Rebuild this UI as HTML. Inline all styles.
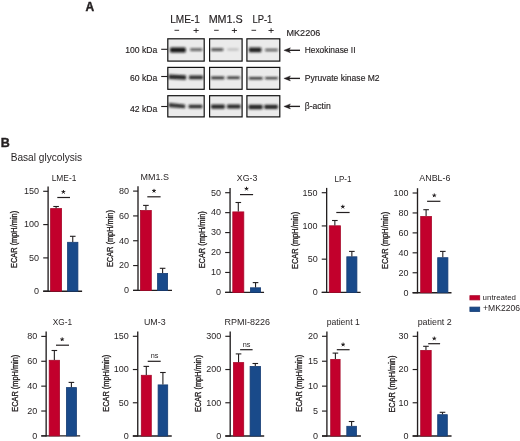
<!DOCTYPE html>
<html><head><meta charset="utf-8"><style>
html,body{margin:0;padding:0;background:#fff;}
svg{display:block;will-change:transform;}
text{font-family:"Liberation Sans", sans-serif;fill:#231f20;} .hv{stroke:#231f20;stroke-width:0.15px;} .yl{stroke:#231f20;stroke-width:0.3px;}
</style></head><body>
<svg width="520" height="441" viewBox="0 0 520 441">
<defs><filter id="bl" x="-30%" y="-100%" width="160%" height="300%"><feGaussianBlur stdDeviation="0.8 1.05"/></filter></defs>
<rect width="520" height="441" fill="#fff"/>
<text x="85.4" y="10.9" font-size="12" text-anchor="start" font-weight="bold" stroke="#231f20" stroke-width="0.4">A</text>
<text class="hv" x="185.0" y="22.6" font-size="10.4" text-anchor="middle" font-weight="normal" textLength="29.7" lengthAdjust="spacingAndGlyphs" >LME-1</text>
<text class="hv" x="225.7" y="22.6" font-size="10.4" text-anchor="middle" font-weight="normal" textLength="34.1" lengthAdjust="spacingAndGlyphs" >MM1.S</text>
<text class="hv" x="262.4" y="22.6" font-size="10.4" text-anchor="middle" font-weight="normal" textLength="19.9" lengthAdjust="spacingAndGlyphs" >LP-1</text>
<line x1="174.5" y1="30.3" x2="179.10000000000002" y2="30.3" stroke="#231f20" stroke-width="0.9"/>
<line x1="193.5" y1="30.5" x2="198.7" y2="30.5" stroke="#231f20" stroke-width="0.9"/>
<line x1="196.1" y1="28.2" x2="196.1" y2="32.9" stroke="#231f20" stroke-width="0.9"/>
<line x1="214.1" y1="30.3" x2="218.70000000000002" y2="30.3" stroke="#231f20" stroke-width="0.9"/>
<line x1="231.8" y1="30.5" x2="237.0" y2="30.5" stroke="#231f20" stroke-width="0.9"/>
<line x1="234.4" y1="28.2" x2="234.4" y2="32.9" stroke="#231f20" stroke-width="0.9"/>
<line x1="251.5" y1="30.3" x2="256.1" y2="30.3" stroke="#231f20" stroke-width="0.9"/>
<line x1="268.5" y1="30.5" x2="273.70000000000005" y2="30.5" stroke="#231f20" stroke-width="0.9"/>
<line x1="271.1" y1="28.2" x2="271.1" y2="32.9" stroke="#231f20" stroke-width="0.9"/>
<text class="hv" x="286.6" y="35.7" font-size="8.6" text-anchor="start" font-weight="normal" textLength="33.6" lengthAdjust="spacingAndGlyphs" >MK2206</text>
<text class="hv" x="157.3" y="52.9" font-size="8.6" text-anchor="end" font-weight="normal" >100 kDa</text>
<line x1="161.2" y1="49.3" x2="167.5" y2="49.3" stroke="#231f20" stroke-width="1.1"/>
<line x1="288" y1="50.3" x2="300" y2="50.3" stroke="#231f20" stroke-width="1.35"/>
<path d="M283.9 50.3 L290.4 47.8 L289.0 50.3 L290.4 52.8 Z" fill="#231f20" stroke="#231f20" stroke-width="0.4" stroke-linejoin="round"/>
<text class="hv" x="304.7" y="52.9" font-size="8.6" text-anchor="start" font-weight="normal" textLength="50.8" lengthAdjust="spacingAndGlyphs" >Hexokinase II</text>
<rect x="167.80" y="38.80" width="36.40" height="22.30" fill="#ebebeb" stroke="#111" stroke-width="1.2"/>
<rect x="209.60" y="38.80" width="32.50" height="22.30" fill="#ebebeb" stroke="#111" stroke-width="1.2"/>
<rect x="246.90" y="38.80" width="32.90" height="22.30" fill="#ebebeb" stroke="#111" stroke-width="1.2"/>
<text class="hv" x="157.3" y="80.9" font-size="8.6" text-anchor="end" font-weight="normal" >60 kDa</text>
<line x1="161.2" y1="76.5" x2="167.5" y2="76.5" stroke="#231f20" stroke-width="1.1"/>
<line x1="288" y1="78.4" x2="300" y2="78.4" stroke="#231f20" stroke-width="1.35"/>
<path d="M283.9 78.4 L290.4 75.9 L289.0 78.4 L290.4 80.9 Z" fill="#231f20" stroke="#231f20" stroke-width="0.4" stroke-linejoin="round"/>
<text class="hv" x="304.7" y="81.4" font-size="8.6" text-anchor="start" font-weight="normal" textLength="74.9" lengthAdjust="spacingAndGlyphs" >Pyruvate kinase M2</text>
<rect x="167.80" y="67.40" width="36.40" height="21.90" fill="#ebebeb" stroke="#111" stroke-width="1.2"/>
<rect x="209.60" y="67.40" width="32.50" height="21.90" fill="#ebebeb" stroke="#111" stroke-width="1.2"/>
<rect x="246.90" y="67.40" width="32.90" height="21.90" fill="#ebebeb" stroke="#111" stroke-width="1.2"/>
<text class="hv" x="157.3" y="112.2" font-size="8.6" text-anchor="end" font-weight="normal" >42 kDa</text>
<line x1="161.2" y1="106.5" x2="167.5" y2="106.5" stroke="#231f20" stroke-width="1.1"/>
<line x1="288" y1="106.4" x2="300" y2="106.4" stroke="#231f20" stroke-width="1.35"/>
<path d="M283.9 106.4 L290.4 103.9 L289.0 106.4 L290.4 108.9 Z" fill="#231f20" stroke="#231f20" stroke-width="0.4" stroke-linejoin="round"/>
<text class="hv" x="304.7" y="109.4" font-size="8.6" text-anchor="start" font-weight="normal" textLength="26.0" lengthAdjust="spacingAndGlyphs" >β-actin</text>
<rect x="167.80" y="95.70" width="36.40" height="21.20" fill="#ebebeb" stroke="#111" stroke-width="1.2"/>
<rect x="209.60" y="95.70" width="32.50" height="21.20" fill="#ebebeb" stroke="#111" stroke-width="1.2"/>
<rect x="246.90" y="95.70" width="32.90" height="21.20" fill="#ebebeb" stroke="#111" stroke-width="1.2"/>
<path d="M170.80 47.40 L185.00 47.40 Q185.80 47.40 185.80 50.00 Q185.80 52.60 185.00 52.60 L170.80 52.60 Q170.00 52.60 170.00 50.00 Q170.00 47.40 170.80 47.40 Z" fill="#141414" fill-opacity="1.0" filter="url(#bl)"/>
<path d="M190.80 48.20 L201.60 48.20 Q202.40 48.20 202.40 49.60 Q202.40 51.00 201.60 51.00 L190.80 51.00 Q190.00 51.00 190.00 49.60 Q190.00 48.20 190.80 48.20 Z" fill="#141414" fill-opacity="0.66" filter="url(#bl)"/>
<path d="M211.80 48.20 L222.60 48.20 Q223.40 48.20 223.40 49.55 Q223.40 50.90 222.60 50.90 L211.80 50.90 Q211.00 50.90 211.00 49.55 Q211.00 48.20 211.80 48.20 Z" fill="#141414" fill-opacity="0.76" filter="url(#bl)"/>
<path d="M228.00 48.60 L237.90 48.60 Q238.70 48.60 238.70 49.55 Q238.70 50.50 237.90 50.50 L228.00 50.50 Q227.20 50.50 227.20 49.55 Q227.20 48.60 228.00 48.60 Z" fill="#141414" fill-opacity="0.22" filter="url(#bl)"/>
<path d="M249.60 47.40 L260.70 47.40 Q261.50 47.40 261.50 49.85 Q261.50 52.30 260.70 52.30 L249.60 52.30 Q248.80 52.30 248.80 49.85 Q248.80 47.40 249.60 47.40 Z" fill="#141414" fill-opacity="0.95" filter="url(#bl)"/>
<path d="M265.80 48.80 L277.20 48.80 Q278.00 48.80 278.00 50.05 Q278.00 51.30 277.20 51.30 L265.80 51.30 Q265.00 51.30 265.00 50.05 Q265.00 48.80 265.80 48.80 Z" fill="#141414" fill-opacity="0.66" filter="url(#bl)"/>
<path d="M169.30 74.50 L185.40 75.30 Q186.20 75.30 186.20 77.50 Q186.20 79.70 185.40 79.70 L169.30 79.00 Q168.50 79.00 168.50 76.75 Q168.50 74.50 169.30 74.50 Z" fill="#141414" fill-opacity="0.92" filter="url(#bl)"/>
<path d="M189.70 75.60 L202.30 75.60 Q203.10 75.60 203.10 77.45 Q203.10 79.30 202.30 79.30 L189.70 79.30 Q188.90 79.30 188.90 77.45 Q188.90 75.60 189.70 75.60 Z" fill="#141414" fill-opacity="0.9" filter="url(#bl)"/>
<path d="M211.80 76.60 L223.70 76.60 Q224.50 76.60 224.50 77.90 Q224.50 79.20 223.70 79.20 L211.80 79.20 Q211.00 79.20 211.00 77.90 Q211.00 76.60 211.80 76.60 Z" fill="#141414" fill-opacity="0.88" filter="url(#bl)"/>
<path d="M227.80 76.50 L239.10 76.50 Q239.90 76.50 239.90 77.75 Q239.90 79.00 239.10 79.00 L227.80 79.00 Q227.00 79.00 227.00 77.75 Q227.00 76.50 227.80 76.50 Z" fill="#141414" fill-opacity="0.88" filter="url(#bl)"/>
<path d="M249.60 77.00 L261.90 77.00 Q262.70 77.00 262.70 78.20 Q262.70 79.40 261.90 79.40 L249.60 79.40 Q248.80 79.40 248.80 78.20 Q248.80 77.00 249.60 77.00 Z" fill="#141414" fill-opacity="0.88" filter="url(#bl)"/>
<path d="M265.80 76.90 L277.20 76.90 Q278.00 76.90 278.00 78.05 Q278.00 79.20 277.20 79.20 L265.80 79.20 Q265.00 79.20 265.00 78.05 Q265.00 76.90 265.80 76.90 Z" fill="#141414" fill-opacity="0.85" filter="url(#bl)"/>
<path d="M169.50 103.00 L184.50 104.40 Q185.30 104.40 185.30 106.30 Q185.30 108.20 184.50 108.20 L169.50 107.20 Q168.70 107.20 168.70 105.10 Q168.70 103.00 169.50 103.00 Z" fill="#141414" fill-opacity="0.88" filter="url(#bl)"/>
<path d="M189.30 104.80 L201.60 104.80 Q202.40 104.80 202.40 106.50 Q202.40 108.20 201.60 108.20 L189.30 108.20 Q188.50 108.20 188.50 106.50 Q188.50 104.80 189.30 104.80 Z" fill="#141414" fill-opacity="0.9" filter="url(#bl)"/>
<path d="M211.80 104.60 L224.10 104.60 Q224.90 104.60 224.90 106.70 Q224.90 108.80 224.10 108.80 L211.80 108.80 Q211.00 108.80 211.00 106.70 Q211.00 104.60 211.80 104.60 Z" fill="#141414" fill-opacity="0.93" filter="url(#bl)"/>
<path d="M227.80 104.60 L239.90 104.60 Q240.70 104.60 240.70 106.60 Q240.70 108.60 239.90 108.60 L227.80 108.60 Q227.00 108.60 227.00 106.60 Q227.00 104.60 227.80 104.60 Z" fill="#141414" fill-opacity="0.93" filter="url(#bl)"/>
<path d="M249.20 104.70 L261.90 104.70 Q262.70 104.70 262.70 107.00 Q262.70 109.30 261.90 109.30 L249.20 109.30 Q248.40 109.30 248.40 107.00 Q248.40 104.70 249.20 104.70 Z" fill="#141414" fill-opacity="0.93" filter="url(#bl)"/>
<path d="M265.00 104.70 L277.20 104.70 Q278.00 104.70 278.00 106.85 Q278.00 109.00 277.20 109.00 L265.00 109.00 Q264.20 109.00 264.20 106.85 Q264.20 104.70 265.00 104.70 Z" fill="#141414" fill-opacity="0.92" filter="url(#bl)"/>
<text x="0.7" y="146.5" font-size="12.5" text-anchor="start" font-weight="bold" stroke="#231f20" stroke-width="0.4">B</text>
<text x="10.7" y="161.4" font-size="10.3" text-anchor="start" font-weight="normal" textLength="71.4" lengthAdjust="spacingAndGlyphs" >Basal glycolysis</text>
<line x1="48.1" y1="186.5" x2="48.1" y2="291.8" stroke="#231f20" stroke-width="1.35"/>
<line x1="43.20" y1="291.2" x2="82.1" y2="291.2" stroke="#231f20" stroke-width="1.35"/>
<line x1="43.20" y1="291.20" x2="48.1" y2="291.20" stroke="#231f20" stroke-width="1.15"/>
<text x="39.1" y="294.00" font-size="9" text-anchor="end" font-weight="normal" >0</text>
<line x1="43.20" y1="257.90" x2="48.1" y2="257.90" stroke="#231f20" stroke-width="1.15"/>
<text x="39.1" y="260.70" font-size="9" text-anchor="end" font-weight="normal" >50</text>
<line x1="43.20" y1="224.60" x2="48.1" y2="224.60" stroke="#231f20" stroke-width="1.15"/>
<text x="39.1" y="227.40" font-size="9" text-anchor="end" font-weight="normal" >100</text>
<line x1="43.20" y1="191.30" x2="48.1" y2="191.30" stroke="#231f20" stroke-width="1.15"/>
<text x="39.1" y="194.10" font-size="9" text-anchor="end" font-weight="normal" >150</text>
<text class="yl" transform="translate(17.10,239.40) rotate(-90)" x="0" y="0" font-size="8.4" text-anchor="middle" textLength="57" lengthAdjust="spacingAndGlyphs">ECAR (mpH/min)</text>
<text x="64.0" y="180.5" font-size="8.4" text-anchor="middle" font-weight="normal" textLength="24.7" lengthAdjust="spacingAndGlyphs" >LME-1</text>
<rect x="50.60" y="208.60" width="11.00" height="82.60" fill="#c2002c" stroke="#a8082a" stroke-width="0.8"/>
<line x1="56.10" y1="208.2" x2="56.10" y2="206.5" stroke="#231f20" stroke-width="1.1"/>
<line x1="53.30" y1="206.5" x2="58.90" y2="206.5" stroke="#231f20" stroke-width="1.1"/>
<rect x="67.60" y="242.30" width="10.30" height="48.90" fill="#194a8a" stroke="#163c74" stroke-width="0.8"/>
<line x1="72.75" y1="241.9" x2="72.75" y2="236.3" stroke="#231f20" stroke-width="1.1"/>
<line x1="69.95" y1="236.3" x2="75.55" y2="236.3" stroke="#231f20" stroke-width="1.1"/>
<line x1="57.3" y1="197.5" x2="70.0" y2="197.5" stroke="#231f20" stroke-width="1.2"/>
<path d="M63.40 192.00 L63.40 190.40 M63.40 192.00 L64.92 191.51 M63.40 192.00 L64.34 193.29 M63.40 192.00 L62.46 193.29 M63.40 192.00 L61.88 191.51 " stroke="#231f20" stroke-width="1.0" stroke-linecap="round"/>
<circle cx="63.4" cy="192.0" r="0.6" fill="#231f20"/>
<line x1="138.0" y1="186.29999999999998" x2="138.0" y2="291.0" stroke="#231f20" stroke-width="1.35"/>
<line x1="133.10" y1="290.4" x2="172.0" y2="290.4" stroke="#231f20" stroke-width="1.35"/>
<line x1="133.10" y1="290.40" x2="138.0" y2="290.40" stroke="#231f20" stroke-width="1.15"/>
<text x="129.0" y="293.20" font-size="9" text-anchor="end" font-weight="normal" >0</text>
<line x1="133.10" y1="265.57" x2="138.0" y2="265.57" stroke="#231f20" stroke-width="1.15"/>
<text x="129.0" y="268.38" font-size="9" text-anchor="end" font-weight="normal" >20</text>
<line x1="133.10" y1="240.75" x2="138.0" y2="240.75" stroke="#231f20" stroke-width="1.15"/>
<text x="129.0" y="243.55" font-size="9" text-anchor="end" font-weight="normal" >40</text>
<line x1="133.10" y1="215.92" x2="138.0" y2="215.92" stroke="#231f20" stroke-width="1.15"/>
<text x="129.0" y="218.72" font-size="9" text-anchor="end" font-weight="normal" >60</text>
<line x1="133.10" y1="191.10" x2="138.0" y2="191.10" stroke="#231f20" stroke-width="1.15"/>
<text x="129.0" y="193.90" font-size="9" text-anchor="end" font-weight="normal" >80</text>
<text class="yl" transform="translate(112.80,238.60) rotate(-90)" x="0" y="0" font-size="8.4" text-anchor="middle" textLength="57" lengthAdjust="spacingAndGlyphs">ECAR (mpH/min)</text>
<text x="154.7" y="179.9" font-size="8.4" text-anchor="middle" font-weight="normal" textLength="28.4" lengthAdjust="spacingAndGlyphs" >MM1.S</text>
<rect x="140.50" y="210.50" width="10.80" height="79.90" fill="#c2002c" stroke="#a8082a" stroke-width="0.8"/>
<line x1="145.90" y1="210.1" x2="145.90" y2="205.4" stroke="#231f20" stroke-width="1.1"/>
<line x1="143.10" y1="205.4" x2="148.70" y2="205.4" stroke="#231f20" stroke-width="1.1"/>
<rect x="157.60" y="273.40" width="10.00" height="17.00" fill="#194a8a" stroke="#163c74" stroke-width="0.8"/>
<line x1="162.60" y1="273.0" x2="162.60" y2="268.3" stroke="#231f20" stroke-width="1.1"/>
<line x1="159.80" y1="268.3" x2="165.40" y2="268.3" stroke="#231f20" stroke-width="1.1"/>
<line x1="147.3" y1="196.8" x2="160.6" y2="196.8" stroke="#231f20" stroke-width="1.2"/>
<path d="M154.00 190.90 L154.00 189.30 M154.00 190.90 L155.52 190.41 M154.00 190.90 L154.94 192.19 M154.00 190.90 L153.06 192.19 M154.00 190.90 L152.48 190.41 " stroke="#231f20" stroke-width="1.0" stroke-linecap="round"/>
<circle cx="154.0" cy="190.9" r="0.6" fill="#231f20"/>
<line x1="230.05" y1="187.89999999999998" x2="230.05" y2="293.0" stroke="#231f20" stroke-width="1.35"/>
<line x1="225.15" y1="292.4" x2="264.05" y2="292.4" stroke="#231f20" stroke-width="1.35"/>
<line x1="225.15" y1="292.40" x2="230.05" y2="292.40" stroke="#231f20" stroke-width="1.15"/>
<text x="221.05" y="295.20" font-size="9" text-anchor="end" font-weight="normal" >0</text>
<line x1="225.15" y1="272.46" x2="230.05" y2="272.46" stroke="#231f20" stroke-width="1.15"/>
<text x="221.05" y="275.26" font-size="9" text-anchor="end" font-weight="normal" >10</text>
<line x1="225.15" y1="252.52" x2="230.05" y2="252.52" stroke="#231f20" stroke-width="1.15"/>
<text x="221.05" y="255.32" font-size="9" text-anchor="end" font-weight="normal" >20</text>
<line x1="225.15" y1="232.58" x2="230.05" y2="232.58" stroke="#231f20" stroke-width="1.15"/>
<text x="221.05" y="235.38" font-size="9" text-anchor="end" font-weight="normal" >30</text>
<line x1="225.15" y1="212.64" x2="230.05" y2="212.64" stroke="#231f20" stroke-width="1.15"/>
<text x="221.05" y="215.44" font-size="9" text-anchor="end" font-weight="normal" >40</text>
<line x1="225.15" y1="192.70" x2="230.05" y2="192.70" stroke="#231f20" stroke-width="1.15"/>
<text x="221.05" y="195.50" font-size="9" text-anchor="end" font-weight="normal" >50</text>
<text class="yl" transform="translate(205.20,239.80) rotate(-90)" x="0" y="0" font-size="8.4" text-anchor="middle" textLength="57" lengthAdjust="spacingAndGlyphs">ECAR (mpH/min)</text>
<text x="247.1" y="181.2" font-size="8.4" text-anchor="middle" font-weight="normal" textLength="20.5" lengthAdjust="spacingAndGlyphs" >XG-3</text>
<rect x="232.80" y="211.90" width="11.00" height="80.50" fill="#c2002c" stroke="#a8082a" stroke-width="0.8"/>
<line x1="238.30" y1="211.5" x2="238.30" y2="202.5" stroke="#231f20" stroke-width="1.1"/>
<line x1="235.50" y1="202.5" x2="241.10" y2="202.5" stroke="#231f20" stroke-width="1.1"/>
<rect x="250.50" y="287.80" width="10.10" height="4.60" fill="#194a8a" stroke="#163c74" stroke-width="0.8"/>
<line x1="255.55" y1="287.4" x2="255.55" y2="282.6" stroke="#231f20" stroke-width="1.1"/>
<line x1="252.75" y1="282.6" x2="258.35" y2="282.6" stroke="#231f20" stroke-width="1.1"/>
<line x1="240.0" y1="194.6" x2="253.1" y2="194.6" stroke="#231f20" stroke-width="1.2"/>
<path d="M246.50 188.80 L246.50 187.20 M246.50 188.80 L248.02 188.31 M246.50 188.80 L247.44 190.09 M246.50 188.80 L245.56 190.09 M246.50 188.80 L244.98 188.31 " stroke="#231f20" stroke-width="1.0" stroke-linecap="round"/>
<circle cx="246.5" cy="188.8" r="0.6" fill="#231f20"/>
<line x1="326.65" y1="187.89999999999998" x2="326.65" y2="293.0" stroke="#231f20" stroke-width="1.35"/>
<line x1="321.75" y1="292.4" x2="360.65" y2="292.4" stroke="#231f20" stroke-width="1.35"/>
<line x1="321.75" y1="292.40" x2="326.65" y2="292.40" stroke="#231f20" stroke-width="1.15"/>
<text x="317.65" y="295.20" font-size="9" text-anchor="end" font-weight="normal" >0</text>
<line x1="321.75" y1="259.17" x2="326.65" y2="259.17" stroke="#231f20" stroke-width="1.15"/>
<text x="317.65" y="261.97" font-size="9" text-anchor="end" font-weight="normal" >50</text>
<line x1="321.75" y1="225.93" x2="326.65" y2="225.93" stroke="#231f20" stroke-width="1.15"/>
<text x="317.65" y="228.73" font-size="9" text-anchor="end" font-weight="normal" >100</text>
<line x1="321.75" y1="192.70" x2="326.65" y2="192.70" stroke="#231f20" stroke-width="1.15"/>
<text x="317.65" y="195.50" font-size="9" text-anchor="end" font-weight="normal" >150</text>
<text class="yl" transform="translate(297.50,240.40) rotate(-90)" x="0" y="0" font-size="8.4" text-anchor="middle" textLength="57" lengthAdjust="spacingAndGlyphs">ECAR (mpH/min)</text>
<text x="343.0" y="181.5" font-size="8.4" text-anchor="middle" font-weight="normal" textLength="17.1" lengthAdjust="spacingAndGlyphs" >LP-1</text>
<rect x="329.30" y="225.80" width="11.10" height="66.60" fill="#c2002c" stroke="#a8082a" stroke-width="0.8"/>
<line x1="334.85" y1="225.4" x2="334.85" y2="220.5" stroke="#231f20" stroke-width="1.1"/>
<line x1="332.05" y1="220.5" x2="337.65" y2="220.5" stroke="#231f20" stroke-width="1.1"/>
<rect x="346.80" y="256.80" width="10.10" height="35.60" fill="#194a8a" stroke="#163c74" stroke-width="0.8"/>
<line x1="351.85" y1="256.4" x2="351.85" y2="251.4" stroke="#231f20" stroke-width="1.1"/>
<line x1="349.05" y1="251.4" x2="354.65" y2="251.4" stroke="#231f20" stroke-width="1.1"/>
<line x1="336.3" y1="212.5" x2="349.6" y2="212.5" stroke="#231f20" stroke-width="1.2"/>
<path d="M342.80 206.80 L342.80 205.20 M342.80 206.80 L344.32 206.31 M342.80 206.80 L343.74 208.09 M342.80 206.80 L341.86 208.09 M342.80 206.80 L341.28 206.31 " stroke="#231f20" stroke-width="1.0" stroke-linecap="round"/>
<circle cx="342.8" cy="206.8" r="0.6" fill="#231f20"/>
<line x1="417.5" y1="188.2" x2="417.5" y2="293.3" stroke="#231f20" stroke-width="1.35"/>
<line x1="412.60" y1="292.7" x2="451.5" y2="292.7" stroke="#231f20" stroke-width="1.35"/>
<line x1="412.60" y1="292.70" x2="417.5" y2="292.70" stroke="#231f20" stroke-width="1.15"/>
<text x="408.5" y="295.50" font-size="9" text-anchor="end" font-weight="normal" >0</text>
<line x1="412.60" y1="272.76" x2="417.5" y2="272.76" stroke="#231f20" stroke-width="1.15"/>
<text x="408.5" y="275.56" font-size="9" text-anchor="end" font-weight="normal" >20</text>
<line x1="412.60" y1="252.82" x2="417.5" y2="252.82" stroke="#231f20" stroke-width="1.15"/>
<text x="408.5" y="255.62" font-size="9" text-anchor="end" font-weight="normal" >40</text>
<line x1="412.60" y1="232.88" x2="417.5" y2="232.88" stroke="#231f20" stroke-width="1.15"/>
<text x="408.5" y="235.68" font-size="9" text-anchor="end" font-weight="normal" >60</text>
<line x1="412.60" y1="212.94" x2="417.5" y2="212.94" stroke="#231f20" stroke-width="1.15"/>
<text x="408.5" y="215.74" font-size="9" text-anchor="end" font-weight="normal" >80</text>
<line x1="412.60" y1="193.00" x2="417.5" y2="193.00" stroke="#231f20" stroke-width="1.15"/>
<text x="408.5" y="195.80" font-size="9" text-anchor="end" font-weight="normal" >100</text>
<text class="yl" transform="translate(388.20,240.40) rotate(-90)" x="0" y="0" font-size="8.4" text-anchor="middle" textLength="57" lengthAdjust="spacingAndGlyphs">ECAR (mpH/min)</text>
<text x="434.9" y="181.3" font-size="8.4" text-anchor="middle" font-weight="normal" textLength="31.1" lengthAdjust="spacingAndGlyphs" >ANBL-6</text>
<rect x="420.70" y="216.50" width="10.80" height="76.20" fill="#c2002c" stroke="#a8082a" stroke-width="0.8"/>
<line x1="426.10" y1="216.1" x2="426.10" y2="209.7" stroke="#231f20" stroke-width="1.1"/>
<line x1="423.30" y1="209.7" x2="428.90" y2="209.7" stroke="#231f20" stroke-width="1.1"/>
<rect x="437.70" y="257.70" width="10.20" height="35.00" fill="#194a8a" stroke="#163c74" stroke-width="0.8"/>
<line x1="442.80" y1="257.3" x2="442.80" y2="251.4" stroke="#231f20" stroke-width="1.1"/>
<line x1="440.00" y1="251.4" x2="445.60" y2="251.4" stroke="#231f20" stroke-width="1.1"/>
<line x1="427.1" y1="201.3" x2="440.4" y2="201.3" stroke="#231f20" stroke-width="1.2"/>
<path d="M434.30 195.50 L434.30 193.90 M434.30 195.50 L435.82 195.01 M434.30 195.50 L435.24 196.79 M434.30 195.50 L433.36 196.79 M434.30 195.50 L432.78 195.01 " stroke="#231f20" stroke-width="1.0" stroke-linecap="round"/>
<circle cx="434.3" cy="195.5" r="0.6" fill="#231f20"/>
<line x1="46.15" y1="331.59999999999997" x2="46.15" y2="436.5" stroke="#231f20" stroke-width="1.35"/>
<line x1="41.25" y1="435.9" x2="80.15" y2="435.9" stroke="#231f20" stroke-width="1.35"/>
<line x1="41.25" y1="435.90" x2="46.15" y2="435.90" stroke="#231f20" stroke-width="1.15"/>
<text x="37.15" y="438.70" font-size="9" text-anchor="end" font-weight="normal" >0</text>
<line x1="41.25" y1="411.02" x2="46.15" y2="411.02" stroke="#231f20" stroke-width="1.15"/>
<text x="37.15" y="413.82" font-size="9" text-anchor="end" font-weight="normal" >20</text>
<line x1="41.25" y1="386.15" x2="46.15" y2="386.15" stroke="#231f20" stroke-width="1.15"/>
<text x="37.15" y="388.95" font-size="9" text-anchor="end" font-weight="normal" >40</text>
<line x1="41.25" y1="361.27" x2="46.15" y2="361.27" stroke="#231f20" stroke-width="1.15"/>
<text x="37.15" y="364.07" font-size="9" text-anchor="end" font-weight="normal" >60</text>
<line x1="41.25" y1="336.40" x2="46.15" y2="336.40" stroke="#231f20" stroke-width="1.15"/>
<text x="37.15" y="339.20" font-size="9" text-anchor="end" font-weight="normal" >80</text>
<text class="yl" transform="translate(18.20,383.20) rotate(-90)" x="0" y="0" font-size="8.4" text-anchor="middle" textLength="57" lengthAdjust="spacingAndGlyphs">ECAR (mpH/min)</text>
<text x="62.5" y="324.8" font-size="8.4" text-anchor="middle" font-weight="normal" textLength="19.4" lengthAdjust="spacingAndGlyphs" >XG-1</text>
<rect x="49.20" y="360.30" width="10.30" height="75.60" fill="#c2002c" stroke="#a8082a" stroke-width="0.8"/>
<line x1="54.35" y1="359.9" x2="54.35" y2="350.5" stroke="#231f20" stroke-width="1.1"/>
<line x1="51.55" y1="350.5" x2="57.15" y2="350.5" stroke="#231f20" stroke-width="1.1"/>
<rect x="66.40" y="387.60" width="10.00" height="48.30" fill="#194a8a" stroke="#163c74" stroke-width="0.8"/>
<line x1="71.40" y1="387.2" x2="71.40" y2="382.4" stroke="#231f20" stroke-width="1.1"/>
<line x1="68.60" y1="382.4" x2="74.20" y2="382.4" stroke="#231f20" stroke-width="1.1"/>
<line x1="56.0" y1="345.2" x2="69.0" y2="345.2" stroke="#231f20" stroke-width="1.2"/>
<path d="M62.20 339.40 L62.20 337.80 M62.20 339.40 L63.72 338.91 M62.20 339.40 L63.14 340.69 M62.20 339.40 L61.26 340.69 M62.20 339.40 L60.68 338.91 " stroke="#231f20" stroke-width="1.0" stroke-linecap="round"/>
<circle cx="62.2" cy="339.4" r="0.6" fill="#231f20"/>
<line x1="137.75" y1="331.5" x2="137.75" y2="436.6" stroke="#231f20" stroke-width="1.35"/>
<line x1="132.85" y1="436.0" x2="171.75" y2="436.0" stroke="#231f20" stroke-width="1.35"/>
<line x1="132.85" y1="436.00" x2="137.75" y2="436.00" stroke="#231f20" stroke-width="1.15"/>
<text x="128.75" y="438.80" font-size="9" text-anchor="end" font-weight="normal" >0</text>
<line x1="132.85" y1="402.77" x2="137.75" y2="402.77" stroke="#231f20" stroke-width="1.15"/>
<text x="128.75" y="405.57" font-size="9" text-anchor="end" font-weight="normal" >50</text>
<line x1="132.85" y1="369.53" x2="137.75" y2="369.53" stroke="#231f20" stroke-width="1.15"/>
<text x="128.75" y="372.33" font-size="9" text-anchor="end" font-weight="normal" >100</text>
<line x1="132.85" y1="336.30" x2="137.75" y2="336.30" stroke="#231f20" stroke-width="1.15"/>
<text x="128.75" y="339.10" font-size="9" text-anchor="end" font-weight="normal" >150</text>
<text class="yl" transform="translate(108.50,383.20) rotate(-90)" x="0" y="0" font-size="8.4" text-anchor="middle" textLength="57" lengthAdjust="spacingAndGlyphs">ECAR (mpH/min)</text>
<text x="154.8" y="324.8" font-size="8.4" text-anchor="middle" font-weight="normal" textLength="21.7" lengthAdjust="spacingAndGlyphs" >UM-3</text>
<rect x="141.30" y="375.30" width="10.00" height="60.70" fill="#c2002c" stroke="#a8082a" stroke-width="0.8"/>
<line x1="146.30" y1="374.9" x2="146.30" y2="366.4" stroke="#231f20" stroke-width="1.1"/>
<line x1="143.50" y1="366.4" x2="149.10" y2="366.4" stroke="#231f20" stroke-width="1.1"/>
<rect x="158.10" y="384.90" width="9.60" height="51.10" fill="#194a8a" stroke="#163c74" stroke-width="0.8"/>
<line x1="162.90" y1="384.5" x2="162.90" y2="372.5" stroke="#231f20" stroke-width="1.1"/>
<line x1="160.10" y1="372.5" x2="165.70" y2="372.5" stroke="#231f20" stroke-width="1.1"/>
<line x1="147.7" y1="361.3" x2="160.7" y2="361.3" stroke="#231f20" stroke-width="1.2"/>
<text x="154.5" y="358.09999999999997" font-size="7.3" text-anchor="middle" font-weight="normal" >ns</text>
<line x1="230.2" y1="331.5" x2="230.2" y2="436.6" stroke="#231f20" stroke-width="1.35"/>
<line x1="225.30" y1="436.0" x2="264.2" y2="436.0" stroke="#231f20" stroke-width="1.35"/>
<line x1="225.30" y1="436.00" x2="230.2" y2="436.00" stroke="#231f20" stroke-width="1.15"/>
<text x="221.2" y="438.80" font-size="9" text-anchor="end" font-weight="normal" >0</text>
<line x1="225.30" y1="402.77" x2="230.2" y2="402.77" stroke="#231f20" stroke-width="1.15"/>
<text x="221.2" y="405.57" font-size="9" text-anchor="end" font-weight="normal" >100</text>
<line x1="225.30" y1="369.53" x2="230.2" y2="369.53" stroke="#231f20" stroke-width="1.15"/>
<text x="221.2" y="372.33" font-size="9" text-anchor="end" font-weight="normal" >200</text>
<line x1="225.30" y1="336.30" x2="230.2" y2="336.30" stroke="#231f20" stroke-width="1.15"/>
<text x="221.2" y="339.10" font-size="9" text-anchor="end" font-weight="normal" >300</text>
<text class="yl" transform="translate(200.80,383.60) rotate(-90)" x="0" y="0" font-size="8.4" text-anchor="middle" textLength="57" lengthAdjust="spacingAndGlyphs">ECAR (mpH/min)</text>
<text x="247.2" y="325.0" font-size="8.4" text-anchor="middle" font-weight="normal" textLength="45.4" lengthAdjust="spacingAndGlyphs" >RPMI-8226</text>
<rect x="233.40" y="362.60" width="10.30" height="73.40" fill="#c2002c" stroke="#a8082a" stroke-width="0.8"/>
<line x1="238.55" y1="362.2" x2="238.55" y2="353.9" stroke="#231f20" stroke-width="1.1"/>
<line x1="235.75" y1="353.9" x2="241.35" y2="353.9" stroke="#231f20" stroke-width="1.1"/>
<rect x="250.10" y="366.40" width="10.40" height="69.60" fill="#194a8a" stroke="#163c74" stroke-width="0.8"/>
<line x1="255.30" y1="366.0" x2="255.30" y2="363.5" stroke="#231f20" stroke-width="1.1"/>
<line x1="252.50" y1="363.5" x2="258.10" y2="363.5" stroke="#231f20" stroke-width="1.1"/>
<line x1="240.1" y1="349.7" x2="252.6" y2="349.7" stroke="#231f20" stroke-width="1.2"/>
<text x="246.6" y="346.8" font-size="7.3" text-anchor="middle" font-weight="normal" >ns</text>
<line x1="326.9" y1="331.5" x2="326.9" y2="436.6" stroke="#231f20" stroke-width="1.35"/>
<line x1="322.00" y1="436.0" x2="360.9" y2="436.0" stroke="#231f20" stroke-width="1.35"/>
<line x1="322.00" y1="436.00" x2="326.9" y2="436.00" stroke="#231f20" stroke-width="1.15"/>
<text x="317.9" y="438.80" font-size="9" text-anchor="end" font-weight="normal" >0</text>
<line x1="322.00" y1="411.07" x2="326.9" y2="411.07" stroke="#231f20" stroke-width="1.15"/>
<text x="317.9" y="413.88" font-size="9" text-anchor="end" font-weight="normal" >5</text>
<line x1="322.00" y1="386.15" x2="326.9" y2="386.15" stroke="#231f20" stroke-width="1.15"/>
<text x="317.9" y="388.95" font-size="9" text-anchor="end" font-weight="normal" >10</text>
<line x1="322.00" y1="361.23" x2="326.9" y2="361.23" stroke="#231f20" stroke-width="1.15"/>
<text x="317.9" y="364.03" font-size="9" text-anchor="end" font-weight="normal" >15</text>
<line x1="322.00" y1="336.30" x2="326.9" y2="336.30" stroke="#231f20" stroke-width="1.15"/>
<text x="317.9" y="339.10" font-size="9" text-anchor="end" font-weight="normal" >20</text>
<text class="yl" transform="translate(301.50,383.20) rotate(-90)" x="0" y="0" font-size="8.4" text-anchor="middle" textLength="57" lengthAdjust="spacingAndGlyphs">ECAR (mpH/min)</text>
<text x="343.2" y="325.0" font-size="8.4" text-anchor="middle" font-weight="normal" textLength="33.1" lengthAdjust="spacingAndGlyphs" >patient 1</text>
<rect x="330.70" y="359.40" width="9.40" height="76.60" fill="#c2002c" stroke="#a8082a" stroke-width="0.8"/>
<line x1="335.40" y1="359.0" x2="335.40" y2="353.1" stroke="#231f20" stroke-width="1.1"/>
<line x1="332.60" y1="353.1" x2="338.20" y2="353.1" stroke="#231f20" stroke-width="1.1"/>
<rect x="346.80" y="426.30" width="9.60" height="9.70" fill="#194a8a" stroke="#163c74" stroke-width="0.8"/>
<line x1="351.60" y1="425.9" x2="351.60" y2="421.5" stroke="#231f20" stroke-width="1.1"/>
<line x1="348.80" y1="421.5" x2="354.40" y2="421.5" stroke="#231f20" stroke-width="1.1"/>
<line x1="336.8" y1="349.7" x2="349.6" y2="349.7" stroke="#231f20" stroke-width="1.2"/>
<path d="M343.10 344.60 L343.10 343.00 M343.10 344.60 L344.62 344.11 M343.10 344.60 L344.04 345.89 M343.10 344.60 L342.16 345.89 M343.10 344.60 L341.58 344.11 " stroke="#231f20" stroke-width="1.0" stroke-linecap="round"/>
<circle cx="343.1" cy="344.6" r="0.6" fill="#231f20"/>
<line x1="417.55" y1="331.5" x2="417.55" y2="436.6" stroke="#231f20" stroke-width="1.35"/>
<line x1="412.65" y1="436.0" x2="451.55" y2="436.0" stroke="#231f20" stroke-width="1.35"/>
<line x1="412.65" y1="436.00" x2="417.55" y2="436.00" stroke="#231f20" stroke-width="1.15"/>
<text x="408.55" y="438.80" font-size="9" text-anchor="end" font-weight="normal" >0</text>
<line x1="412.65" y1="402.77" x2="417.55" y2="402.77" stroke="#231f20" stroke-width="1.15"/>
<text x="408.55" y="405.57" font-size="9" text-anchor="end" font-weight="normal" >10</text>
<line x1="412.65" y1="369.53" x2="417.55" y2="369.53" stroke="#231f20" stroke-width="1.15"/>
<text x="408.55" y="372.33" font-size="9" text-anchor="end" font-weight="normal" >20</text>
<line x1="412.65" y1="336.30" x2="417.55" y2="336.30" stroke="#231f20" stroke-width="1.15"/>
<text x="408.55" y="339.10" font-size="9" text-anchor="end" font-weight="normal" >30</text>
<text class="yl" transform="translate(394.50,384.10) rotate(-90)" x="0" y="0" font-size="8.4" text-anchor="middle" textLength="57" lengthAdjust="spacingAndGlyphs">ECAR (mpH/min)</text>
<text x="434.7" y="325.0" font-size="8.4" text-anchor="middle" font-weight="normal" textLength="34.1" lengthAdjust="spacingAndGlyphs" >patient 2</text>
<rect x="420.70" y="350.40" width="10.50" height="85.60" fill="#c2002c" stroke="#a8082a" stroke-width="0.8"/>
<line x1="425.95" y1="350.0" x2="425.95" y2="346.3" stroke="#231f20" stroke-width="1.1"/>
<line x1="423.15" y1="346.3" x2="428.75" y2="346.3" stroke="#231f20" stroke-width="1.1"/>
<rect x="437.70" y="414.70" width="9.60" height="21.30" fill="#194a8a" stroke="#163c74" stroke-width="0.8"/>
<line x1="442.50" y1="414.3" x2="442.50" y2="412.3" stroke="#231f20" stroke-width="1.1"/>
<line x1="439.70" y1="412.3" x2="445.30" y2="412.3" stroke="#231f20" stroke-width="1.1"/>
<line x1="428.2" y1="343.7" x2="440.1" y2="343.7" stroke="#231f20" stroke-width="1.2"/>
<path d="M434.30 338.60 L434.30 337.00 M434.30 338.60 L435.82 338.11 M434.30 338.60 L435.24 339.89 M434.30 338.60 L433.36 339.89 M434.30 338.60 L432.78 338.11 " stroke="#231f20" stroke-width="1.0" stroke-linecap="round"/>
<circle cx="434.3" cy="338.6" r="0.6" fill="#231f20"/>
<rect x="469.9" y="295.7" width="9.8" height="4.2" fill="#c2002c" stroke="#a8082a" stroke-width="0.8"/>
<rect x="469.9" y="307.1" width="9.8" height="4.4" fill="#194a8a" stroke="#163c74" stroke-width="0.8"/>
<text x="482.6" y="299.9" font-size="8" text-anchor="start" font-weight="normal" textLength="33.4" lengthAdjust="spacingAndGlyphs" >untreated</text>
<text x="483" y="311.0" font-size="8.6" text-anchor="start" font-weight="normal" >+MK2206</text>
</svg>
</body></html>
